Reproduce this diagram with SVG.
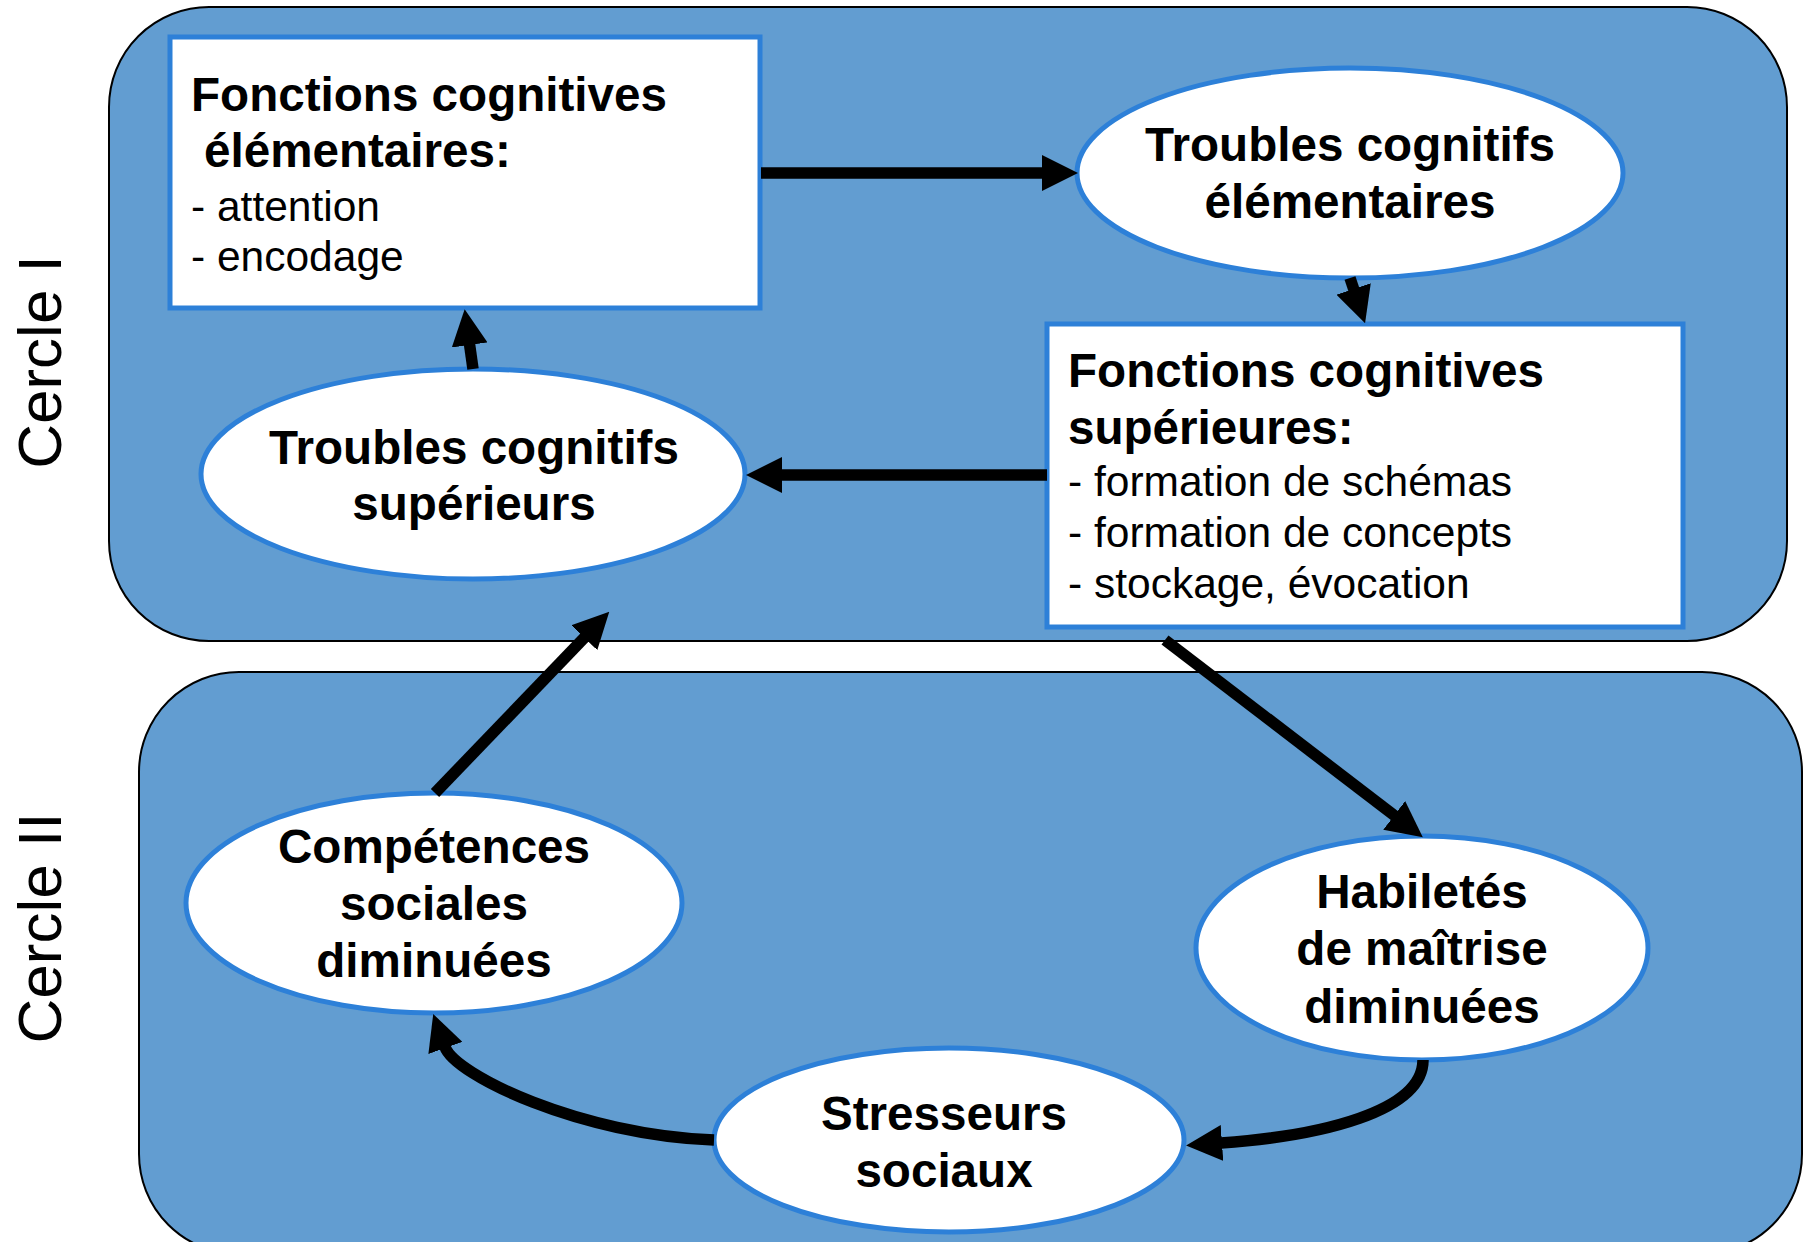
<svg xmlns="http://www.w3.org/2000/svg" width="1808" height="1242" viewBox="0 0 1808 1242">
<style>
.panel{fill:#629dd1;stroke:#000;stroke-width:2}
.box{fill:#fff;stroke:#2d80d8;stroke-width:5}
.ell{fill:#fff;stroke:#2d80d8;stroke-width:5}
.b{font-family:"Liberation Sans",Arial,sans-serif;font-weight:bold;font-size:47.6px;fill:#000}
.r{font-family:"Liberation Sans",Arial,sans-serif;font-size:42.5px;fill:#000}
.c{text-anchor:middle}
.lbl{font-family:"Liberation Sans",Arial,sans-serif;font-size:62px;fill:#000;text-anchor:middle}
.arr{fill:none;stroke:#000;stroke-width:11.5}
</style>
<defs>
<marker id="ah" viewBox="0 0 36 36" refX="1" refY="18" markerWidth="36" markerHeight="36" markerUnits="userSpaceOnUse" orient="auto">
<path d="M0,0 L36,18 L0,36 z" fill="#000"/>
</marker>
</defs>
<rect class="panel" x="109" y="7" width="1678" height="634" rx="100" ry="100"/>
<rect class="panel" x="139" y="672" width="1663" height="582" rx="100" ry="100"/>
<text class="lbl" transform="translate(61,362) rotate(-90)">Cercle I</text>
<text class="lbl" transform="translate(61,928) rotate(-90)">Cercle II</text>
<g id="fce">
<rect class="box" x="170" y="37" width="590" height="271"/>
<text class="b" x="191" y="111">Fonctions cognitives</text>
<text class="b" x="204" y="167">élémentaires:</text>
<text class="r" x="191" y="221">- attention</text>
<text class="r" x="191" y="271">- encodage</text>
</g>
<g id="tce">
<ellipse class="ell" cx="1350" cy="173" rx="273" ry="105"/>
<text class="b c" x="1350" y="161">Troubles cognitifs</text>
<text class="b c" x="1350" y="218">élémentaires</text>
</g>
<g id="fcs">
<rect class="box" x="1047" y="324" width="636" height="303"/>
<text class="b" x="1068" y="387">Fonctions cognitives</text>
<text class="b" x="1068" y="444">supérieures:</text>
<text class="r" x="1068" y="496">- formation de schémas</text>
<text class="r" x="1068" y="547">- formation de concepts</text>
<text class="r" x="1068" y="598">- stockage, évocation</text>
</g>
<g id="tcs">
<ellipse class="ell" cx="473" cy="474" rx="272" ry="105"/>
<text class="b c" x="474" y="464">Troubles cognitifs</text>
<text class="b c" x="474" y="520">supérieurs</text>
</g>
<g id="csd">
<ellipse class="ell" cx="434" cy="903" rx="248" ry="110"/>
<text class="b c" x="434" y="863">Compétences</text>
<text class="b c" x="434" y="920">sociales</text>
<text class="b c" x="434" y="977">diminuées</text>
</g>
<g id="hmd">
<ellipse class="ell" cx="1422" cy="948" rx="226" ry="112"/>
<text class="b c" x="1422" y="908">Habiletés</text>
<text class="b c" x="1422" y="965">de maîtrise</text>
<text class="b c" x="1422" y="1023">diminuées</text>
</g>
<g id="ss">
<ellipse class="ell" cx="949" cy="1140" rx="235" ry="92"/>
<text class="b c" x="944" y="1130">Stresseurs</text>
<text class="b c" x="944" y="1187">sociaux</text>
</g>
<g id="connectors">
<path class="arr" d="M761,173 L1043,173" marker-end="url(#ah)"/>
<path class="arr" d="M1350,278 L1354,290" marker-end="url(#ah)"/>
<path class="arr" d="M1047,475 L781,475" marker-end="url(#ah)"/>
<path class="arr" d="M473,369 L469.5,344" marker-end="url(#ah)"/>
<path class="arr" d="M435,793 L585,637" marker-end="url(#ah)"/>
<path class="arr" d="M1165,640 L1395,816" marker-end="url(#ah)"/>
<path class="arr" d="M1423,1060 C1423,1112 1320,1136 1221,1143" marker-end="url(#ah)"/>
<path class="arr" d="M714,1140 C580,1135 455,1075 445,1047" marker-end="url(#ah)"/>
</g>
</svg>
